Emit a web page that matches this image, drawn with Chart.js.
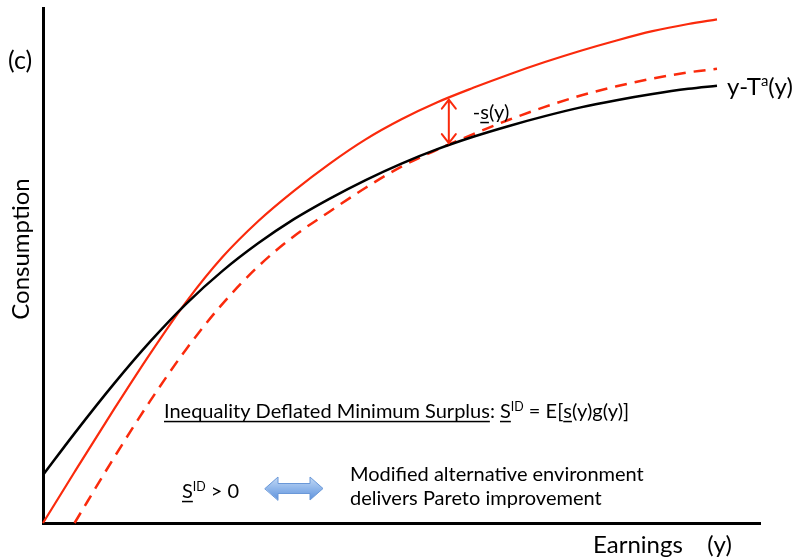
<!DOCTYPE html>
<html>
<head>
<meta charset="utf-8">
<script src="https://cdn.jsdelivr.net/npm/chart.js@4.4.1/dist/chart.umd.min.js"></script>
<style>
  html, body { margin: 0; padding: 0; background: #fff; }
  canvas { display: block; }
</style>
</head>
<body>
<canvas id="chart" width="797" height="558"></canvas>
<script>
// Earnings grid (horizontal axis, 0..100)
const earnings    = [0, 4.4, 10, 15, 20, 25, 30, 35, 40, 45, 50, 55, 60, 65, 70, 75, 80, 85, 90, 94];
// Consumption under the actual schedule y - T^a(y)
const afterTax    = [9.3, 17.4, 27.2, 35.3, 42.6, 48.9, 54.3, 59.0, 63.0, 66.6, 69.8, 72.6, 75.0, 77.1, 79.0, 80.7, 82.1, 83.3, 84.3, 84.9];
// Consumption in the alternative environment
const alternative = [0, 9.9, 22.3, 33.0, 43.0, 51.6, 58.6, 64.5, 69.8, 74.5, 78.4, 81.7, 84.5, 87.1, 89.5, 91.7, 93.7, 95.5, 96.9, 97.8];
// Consumption in the modified alternative environment (starts at y = 4.4)
const modified    = [null, 0, 12.9, 23.8, 33.8, 42.5, 49.8, 55.7, 60.5, 65.1, 69.2, 72.5, 75.5, 78.3, 80.8, 83.0, 84.8, 86.3, 87.5, 88.2];
// Earnings level where the surplus -s(y) is marked
const surplusAt = 56.6;

const RED = 'rgb(250, 42, 12)';
const FONT = 'Lato, "Open Sans", sans-serif';

function pts(ys) {
  return earnings.map((x, i) => ({ x: x, y: ys[i] }));
}

function interp(ys, x) {
  for (let i = 0; i < earnings.length - 1; i++) {
    const a = earnings[i], b = earnings[i + 1];
    if (x >= a && x <= b && ys[i] != null && ys[i + 1] != null) {
      return ys[i] + (ys[i + 1] - ys[i]) * (x - a) / (b - a);
    }
  }
  return null;
}

// Draws a run of text pieces; pieces may be underlined or raised
function rich(ctx, x, y, parts, size) {
  let cx = x;
  ctx.textBaseline = 'alphabetic';
  ctx.textAlign = 'left';
  for (const p of parts) {
    const s = p.sup ? size * 0.62 : size;
    ctx.font = s + 'px ' + FONT;
    const w = ctx.measureText(p.t).width;
    const dy = p.sup ? -size * 0.36 : 0;
    ctx.fillText(p.t, cx, y + dy);
    if (p.u) {
      ctx.fillRect(cx, y + size * 0.14, w, Math.max(1.3, size * 0.075));
    }
    cx += w;
  }
  return cx;
}

const notes = {
  id: 'notes',
  afterDatasetsDraw(chart) {
    const { ctx, scales: { x, y } } = chart;
    ctx.save();
    ctx.fillStyle = '#000';

    // vertical axis labels
    ctx.font = '25px ' + FONT;
    ctx.textBaseline = 'alphabetic';
    ctx.textAlign = 'left';
    ctx.fillText('(c)', 8, 69);

    ctx.save();
    ctx.translate(21, 249);
    ctx.rotate(-Math.PI / 2);
    ctx.textAlign = 'center';
    ctx.textBaseline = 'middle';
    ctx.font = '24px ' + FONT;
    ctx.fillText('Consumption', 0, 0);
    ctx.restore();

    // horizontal axis label
    ctx.font = '24px ' + FONT;
    ctx.textAlign = 'left';
    ctx.textBaseline = 'alphabetic';
    ctx.fillText('Earnings    (y)', 593, 553);

    // label at the end of the actual schedule
    const endX = x.getPixelForValue(earnings[earnings.length - 1]);
    rich(ctx, endX + 10, 95, [{ t: 'y-T' }, { t: 'a', sup: true }, { t: '(y)' }], 24);

    // surplus arrow between the two environments
    const ax = x.getPixelForValue(surplusAt);
    const top = y.getPixelForValue(interp(alternative, surplusAt));
    const bot = y.getPixelForValue(interp(afterTax, surplusAt));
    ctx.strokeStyle = RED;
    ctx.lineWidth = 2;
    ctx.lineCap = 'round';
    ctx.beginPath();
    ctx.moveTo(ax, top + 2);
    ctx.lineTo(ax, bot - 2);
    ctx.moveTo(ax - 7, top + 11);
    ctx.lineTo(ax, top + 2);
    ctx.lineTo(ax + 7, top + 11);
    ctx.moveTo(ax - 7, bot - 11);
    ctx.lineTo(ax, bot - 2);
    ctx.lineTo(ax + 7, bot - 11);
    ctx.stroke();

    rich(ctx, ax + 24, 119, [{ t: '-' }, { t: 's', u: true }, { t: '(y)' }], 20);

    // definition of the surplus
    rich(ctx, 164, 418, [
      { t: 'Inequality Deflated Minimum Surplus', u: true },
      { t: ': ' },
      { t: 'S', u: true },
      { t: 'ID', sup: true },
      { t: ' = E[' },
      { t: 's', u: true },
      { t: '(y)g(y)]' }
    ], 20);

    rich(ctx, 182, 498, [{ t: 'S', u: true }, { t: 'ID', sup: true }, { t: ' > 0' }], 20);

    // double-headed equivalence arrow
    const l = 265, r = 323, cy = 488.5, hl = 13, hh = 11.5, sh = 5;
    const g = ctx.createLinearGradient(0, cy - hh, 0, cy + hh);
    g.addColorStop(0, '#c4daf6');
    g.addColorStop(0.5, '#8fb6ea');
    g.addColorStop(1, '#5f92dc');
    ctx.beginPath();
    ctx.moveTo(l, cy);
    ctx.lineTo(l + hl, cy - hh);
    ctx.lineTo(l + hl, cy - sh);
    ctx.lineTo(r - hl, cy - sh);
    ctx.lineTo(r - hl, cy - hh);
    ctx.lineTo(r, cy);
    ctx.lineTo(r - hl, cy + hh);
    ctx.lineTo(r - hl, cy + sh);
    ctx.lineTo(l + hl, cy + sh);
    ctx.lineTo(l + hl, cy + hh);
    ctx.closePath();
    ctx.fillStyle = g;
    ctx.fill();
    ctx.strokeStyle = '#6a98d8';
    ctx.lineWidth = 1;
    ctx.stroke();

    ctx.fillStyle = '#000';
    ctx.font = '20px ' + FONT;
    ctx.fillText('Modified alternative environment', 350, 481);
    ctx.fillText('delivers Pareto improvement', 350, 505);

    ctx.restore();
  }
};

new Chart(document.getElementById('chart'), {
  type: 'line',
  data: {
    datasets: [
      {
        label: 'y-T^a(y)',
        data: pts(afterTax),
        borderColor: '#000',
        borderWidth: 2.5,
        clip: false
      },
      {
        label: 'Alternative environment',
        data: pts(alternative),
        borderColor: RED,
        borderWidth: 2.2,
        clip: false
      },
      {
        label: 'Modified alternative environment',
        data: pts(modified),
        borderColor: RED,
        borderWidth: 2.5,
        borderDash: [12, 8],
        clip: false
      }
    ]
  },
  options: {
    responsive: false,
    animation: false,
    devicePixelRatio: 1,
    layout: { padding: { left: 43, top: 8, right: 37, bottom: 35 } },
    plugins: { legend: { display: false }, tooltip: { enabled: false } },
    elements: {
      point: { radius: 0 },
      line: { cubicInterpolationMode: 'monotone' }
    },
    scales: {
      x: {
        type: 'linear', min: 0, max: 100,
        grid: { display: false, drawTicks: false },
        ticks: { display: false },
        border: { display: true, color: '#000', width: 3 }
      },
      y: {
        type: 'linear', min: 0, max: 100,
        grid: { display: false, drawTicks: false },
        ticks: { display: false },
        border: { display: true, color: '#000', width: 3 }
      }
    }
  },
  plugins: [notes]
});
</script>
</body>
</html>
